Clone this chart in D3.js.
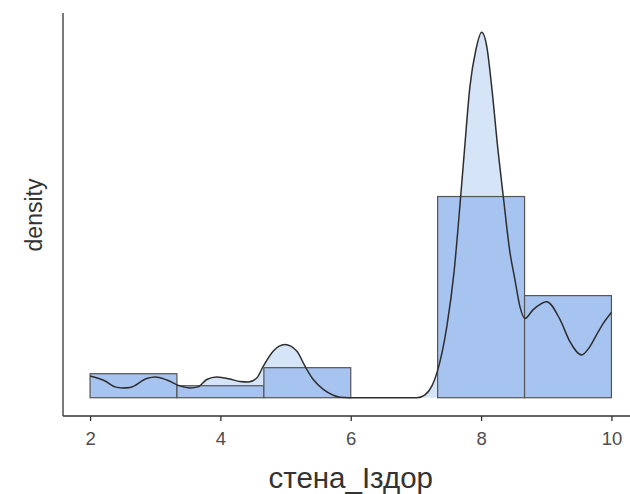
<!DOCTYPE html>
<html>
<head>
<meta charset="utf-8">
<script src="https://cdnjs.cloudflare.com/ajax/libs/d3/7.8.5/d3.min.js"></script>
<style>
    body { margin: 0; background: #ffffff; }
    text { font-family: "Liberation Sans", Arial, sans-serif; }
</style>
</head>
<body>
<svg id="chart"></svg>
<script>
// Histogram bins (edges) and their densities
const binEdges = [2, 3.333, 4.667, 6, 7.333, 8.667, 10];
const binDensity = [0.0488, 0.0244, 0.0610, 0, 0.4085, 0.2073];

// Kernel density curve
const densX = [2.000, 2.230, 2.383, 2.491, 2.614, 2.870, 2.997, 3.177, 3.381, 3.534,
    3.657, 3.790, 3.944, 4.148, 4.301, 4.428, 4.557, 4.658, 4.812, 4.991,
    5.171, 5.298, 5.425, 5.579, 5.732, 5.835, 5.988, 6.500, 7.016, 7.139,
    7.246, 7.323, 7.476, 7.584, 7.687, 7.742, 7.829, 7.921, 8.009, 8.090,
    8.162, 8.263, 8.340, 8.443, 8.519, 8.596, 8.673, 8.800, 9.006, 9.210,
    9.363, 9.543, 9.660, 9.773, 9.880, 10.000];
const densY = [0.044, 0.034, 0.022, 0.020, 0.021, 0.039, 0.042, 0.036, 0.024, 0.020,
    0.022, 0.037, 0.042, 0.038, 0.033, 0.032, 0.040, 0.064, 0.095, 0.108,
    0.095, 0.064, 0.037, 0.017, 0.005, 0.001, 0, 0, 0, 0.006,
    0.024, 0.051, 0.146, 0.254, 0.409, 0.498, 0.632, 0.707, 0.742, 0.711,
    0.632, 0.498, 0.409, 0.295, 0.240, 0.185, 0.161, 0.179, 0.195, 0.159,
    0.114, 0.087, 0.102, 0.128, 0.152, 0.173];

// Tick labels on x
const xTicks = [2, 4, 6, 8, 10];

// SVG Dimensions
let width = 630, height = 494;
let panel = { left: 64, right: 637.5, top: 14, bottom: 416 };

let xScale, yScale;
let svg = d3.select('#chart');

function drawSvg() {
    svg.attr('width', width)
        .attr('height', height);
}

function generateScales() {
    let xMin = d3.min(binEdges), xMax = d3.max(binEdges);
    let xPad = (xMax - xMin) * 0.05;
    xScale = d3.scaleLinear()
        .domain([xMin - xPad, xMax + xPad])
        .range([panel.left, panel.right]);

    let yMax = Math.max(d3.max(densY), d3.max(binDensity));
    yScale = d3.scaleLinear()
        .domain([-yMax * 0.05, yMax * 1.05])
        .range([panel.bottom, panel.top]);
}

function drawDensityFill() {
    let pts = densX.map((x, i) => [x, densY[i]]);
    let area = d3.area()
        .x(d => xScale(d[0]))
        .y0(yScale(0))
        .y1(d => yScale(d[1]))
        .curve(d3.curveMonotoneX);
    svg.append('path')
        .datum(pts)
        .attr('d', area)
        .attr('fill', '#d6e4f7');
}

function drawBars() {
    let bins = binDensity.map((v, i) => ({ x0: binEdges[i], x1: binEdges[i + 1], d: v }));
    svg.append('g')
        .selectAll('rect')
        .data(bins)
        .enter()
        .append('rect')
        .attr('x', d => xScale(d.x0))
        .attr('width', d => xScale(d.x1) - xScale(d.x0))
        .attr('y', d => yScale(d.d))
        .attr('height', d => yScale(0) - yScale(d.d))
        .attr('fill', '#a7c4f1')
        .attr('stroke', '#555555')
        .attr('stroke-width', 1.2);
}

function drawDensityLine() {
    let pts = densX.map((x, i) => [x, densY[i]]);
    let line = d3.line()
        .x(d => xScale(d[0]))
        .y(d => yScale(d[1]))
        .curve(d3.curveMonotoneX);
    svg.append('path')
        .datum(pts)
        .attr('d', line)
        .attr('fill', 'none')
        .attr('stroke', '#2e2e2e')
        .attr('stroke-width', 1.5);
}

function generateAxes() {
    // x axis
    let xAxis = d3.axisBottom(xScale).tickValues(xTicks).tickSize(5).tickPadding(11).tickSizeOuter(0);
    let gx = svg.append('g')
        .attr('transform', `translate(0, ${panel.bottom})`)
        .call(xAxis);
    gx.select('.domain')
        .attr('d', `M${panel.left - 1},0H${width}`)
        .attr('stroke', '#333333')
        .attr('stroke-width', 1.3);
    gx.selectAll('.tick line').attr('stroke', '#333333').attr('stroke-width', 1.3);
    gx.selectAll('.tick text')
        .attr('fill', '#4d4d4d')
        .style('font-size', '18.5px');

    // y axis, no ticks
    svg.append('line')
        .attr('x1', panel.left - 1).attr('x2', panel.left - 1)
        .attr('y1', panel.top - 1).attr('y2', panel.bottom)
        .attr('stroke', '#333333')
        .attr('stroke-width', 1.3);

    // titles
    svg.append('text')
        .attr('x', (panel.left + panel.right) / 2)
        .attr('y', 488)
        .attr('text-anchor', 'middle')
        .attr('fill', '#333333')
        .style('font-size', '29.5px')
        .text('стена_Iздор');

    svg.append('text')
        .attr('transform', `translate(42, ${(panel.top + panel.bottom) / 2}) rotate(-90)`)
        .attr('text-anchor', 'middle')
        .attr('fill', '#333333')
        .style('font-size', '23px')
        .text('density');
}

drawSvg();
generateScales();
drawDensityFill();
drawBars();
drawDensityLine();
generateAxes();
</script>
</body>
</html>
